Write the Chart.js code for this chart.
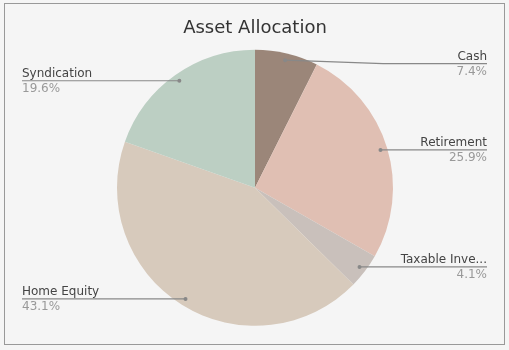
<!DOCTYPE html>
<html>
<head>
<meta charset="utf-8">
<script src="https://cdn.jsdelivr.net/npm/chart.js@4/dist/chart.umd.min.js"></script>
<style>
    html, body { margin: 0; padding: 0; background: #f5f5f5; }
    .frame {
        position: absolute;
        left: 4px; top: 3px;
        width: 499px; height: 340px;
        border: 1px solid #999;
    }
    #allocChart { position: absolute; left: 0; top: 0; }
</style>
</head>
<body>
<div class="frame"></div>
<canvas id="allocChart" width="509" height="350"></canvas>
<script>
// Allocation data
const categories = ["Cash", "Retirement", "Taxable Investments", "Home Equity", "Syndication"];
const shares = [7.4, 25.9, 4.1, 43.1, 19.6];
const sliceColors = ["#9b8679", "#e0bfb3", "#c9c0bb", "#d7cabc", "#bccfc3"];

// Leader lines with name above and percent below
const leaderLabels = {
    id: "leaderLabels",
    afterDraw(chart) {
        const ctx = chart.ctx;
        const meta = chart.getDatasetMeta(0);
        const area = chart.chartArea;
        ctx.save();
        meta.data.forEach((arc, i) => {
            const cx = arc.x, cy = arc.y, r = arc.outerRadius;
            const mid = (arc.startAngle + arc.endAngle) / 2;
            const dx = cx + Math.cos(mid) * r * 0.95;
            const dy = cy + Math.sin(mid) * r * 0.95;
            const right = Math.cos(mid) >= 0;
            const lineY = Math.max(dy, area.top + 24);
            const elbowX = right ? cx + r - 10 : cx - r + 10;
            const endX = right ? 487 : 22;

            ctx.strokeStyle = "#888";
            ctx.fillStyle = "#888";
            ctx.lineWidth = 1.2;
            ctx.beginPath();
            ctx.moveTo(dx, dy);
            if (lineY !== dy) ctx.lineTo(elbowX, lineY);
            ctx.lineTo(endX, lineY);
            ctx.stroke();
            ctx.beginPath();
            ctx.arc(dx, dy, 2, 0, Math.PI * 2);
            ctx.fill();

            let name = categories[i];
            if (name.length > 12) name = name.slice(0, 12) + "...";
            ctx.textAlign = right ? "right" : "left";
            ctx.font = "12px 'DejaVu Sans'";
            ctx.fillStyle = "#444";
            ctx.textBaseline = "alphabetic";
            ctx.fillText(name, endX, lineY - 4);
            ctx.fillStyle = "#999";
            ctx.textBaseline = "top";
            ctx.fillText(shares[i].toFixed(1) + "%", endX, lineY + 2);
        });
        ctx.restore();
    }
};

new Chart(document.getElementById("allocChart"), {
    type: "pie",
    data: {
        labels: categories,
        datasets: [{
            data: shares,
            backgroundColor: sliceColors,
            borderWidth: 0,
            radius: 138,
        }],
    },
    options: {
        responsive: false,
        animation: false,
        layout: { padding: { left: 20, right: 19, top: 0, bottom: 14 } },
        plugins: {
            legend: { display: false },
            tooltip: { enabled: false },
            title: {
                display: true,
                text: "Asset Allocation",
                color: "#333",
                font: { family: "'DejaVu Sans'", size: 18, weight: "normal" },
                padding: { top: 18, bottom: 0 },
            },
        },
    },
    plugins: [leaderLabels],
});
</script>
</body>
</html>
